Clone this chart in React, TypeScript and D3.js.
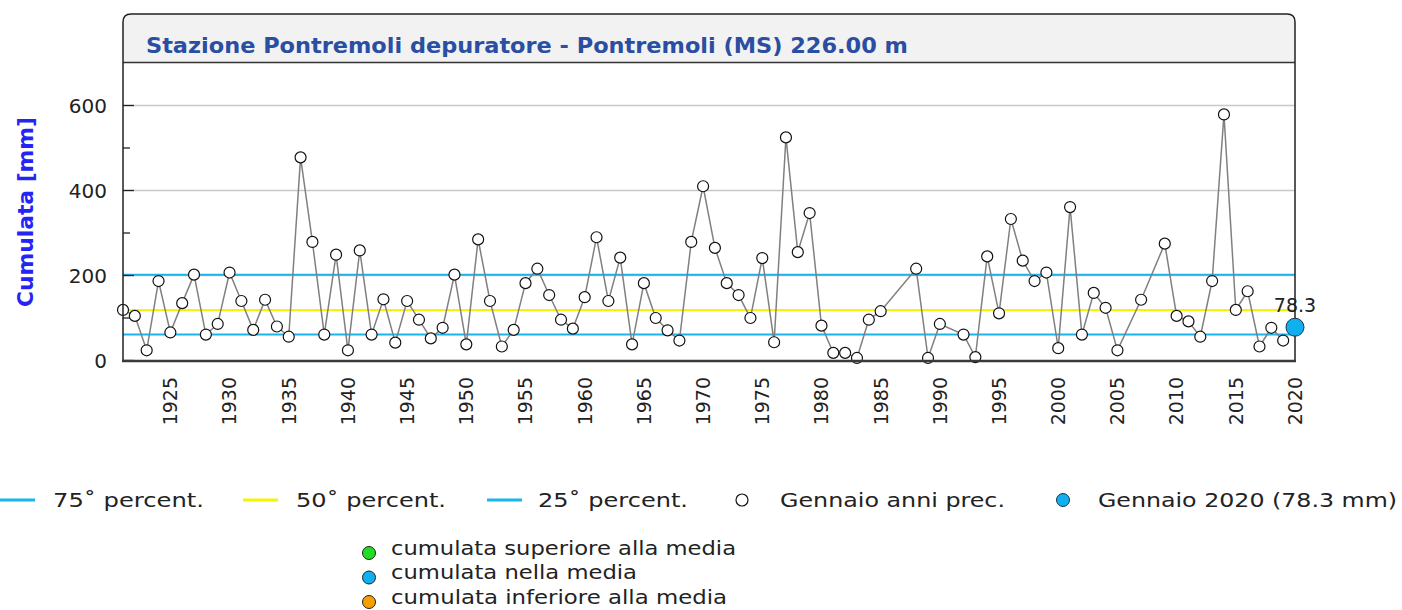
import React from "react";
import * as d3 from "d3";

const years: number[] = [
  1921, 1922, 1923, 1924, 1925, 1926, 1927, 1928, 1929, 1930,
  1931, 1932, 1933, 1934, 1935, 1936, 1937, 1938, 1939, 1940,
  1941, 1942, 1943, 1944, 1945, 1946, 1947, 1948, 1949, 1950,
  1951, 1952, 1953, 1954, 1955, 1956, 1957, 1958, 1959, 1960,
  1961, 1962, 1963, 1964, 1965, 1966, 1967, 1968, 1969, 1970,
  1971, 1972, 1973, 1974, 1975, 1976, 1977, 1978, 1979, 1980,
  1981, 1982, 1983, 1984, 1985, 1988, 1989, 1990, 1992, 1993,
  1994, 1995, 1996, 1997, 1998, 1999, 2000, 2001, 2002, 2003,
  2004, 2005, 2007, 2009, 2010, 2011, 2012, 2013, 2014, 2015,
  2016, 2017, 2018, 2019,
];
const values: number[] = [
  119, 105, 24, 187, 66, 135, 202, 61, 86, 207,
  140, 72, 143, 80, 56, 478, 279, 61, 249, 24,
  259, 61, 144, 42, 140, 96, 52, 77, 202, 38,
  285, 140, 33, 72, 182, 216, 154, 96, 75, 149,
  290, 140, 242, 38, 182, 100, 71, 47, 279, 410,
  265, 182, 154, 100, 241, 43, 525, 255, 347, 82,
  18, 18, 6, 96, 116, 216, 6, 86, 61, 8,
  245, 111, 333, 235, 187, 207, 29, 361, 61, 159,
  124, 24, 143, 275, 105, 92, 56, 187, 579, 119,
  163, 33, 77, 47,
];
const currentYear = 2020;
const currentValue = 78.3;
const p75 = 202;
const p50 = 119;
const p25 = 61;
const yMajorTicks: number[] = [0, 200, 400, 600];
const yMinorTicks: number[] = [100, 300, 500];
const xTickYears: number[] = [1925, 1930, 1935, 1940, 1945, 1950, 1955, 1960, 1965, 1970, 1975, 1980, 1985, 1990, 1995, 2000, 2005, 2010, 2015, 2020];
const titleText = "Stazione Pontremoli depuratore - Pontremoli (MS) 226.00 m";
const yTitle = "Cumulata [mm]";
const legendMain = [
  { label: "75\u02DA percent.", kind: "line", color: "#1ab4ee", lx: 0, tx: 53, tw: 151 },
  { label: "50\u02DA percent.", kind: "line", color: "#f5f500", lx: 243, tx: 296, tw: 150 },
  { label: "25\u02DA percent.", kind: "line", color: "#1ab4ee", lx: 487, tx: 538, tw: 150 },
  { label: "Gennaio anni prec.", kind: "open", color: "#ffffff", lx: 742, tx: 780, tw: 225 },
  { label: "Gennaio 2020 (78.3 mm)", kind: "filled", color: "#10b0ee", lx: 1063, tx: 1098, tw: 299 },
];
const legendClass = [
  { label: "cumulata superiore alla media", color: "#22dd22", tw: 345 },
  { label: "cumulata nella media", color: "#10b0ee", tw: 246 },
  { label: "cumulata inferiore alla media", color: "#f5a000", tw: 336 },
];

const FONT = "DejaVu Sans, sans-serif";

export default function App() {
  const left = 123, right = 1295, top = 14, bandBottom = 62.5, bottom = 361;
  const x = d3.scaleLinear().domain([1921, 2020]).range([left, right]);
  const y = d3.scaleLinear().domain([0, 700]).range([360.5, 63]);
  const pts = years.map((yr, i) => [yr, values[i]] as [number, number]);
  const line = d3.line<[number, number]>().x((d) => x(d[0])).y((d) => y(d[1]));
  const r = 8;
  const framePath = `M${left},${bottom} L${left},${top + r} Q${left},${top} ${left + r},${top} L${right - r},${top} Q${right},${top} ${right},${top + r} L${right},${bottom}`;
  const bandPath = `M${left},${bandBottom} L${left},${top + r} Q${left},${top} ${left + r},${top} L${right - r},${top} Q${right},${top} ${right},${top + r} L${right},${bandBottom} Z`;

  return (
    <svg width={1402} height={610} style={{ position: "absolute", left: 0, top: 0, background: "#fff" }} fontFamily={FONT}>
      <rect x={0} y={0} width={1402} height={610} fill="#fff" />
      <path d={bandPath} fill="#f2f2f2" />
      <text x={146} y={53} fontSize={21} fontWeight="bold" fill="#2a4ea2" textLength={762} lengthAdjust="spacingAndGlyphs">{titleText}</text>
      <line x1={left} x2={right} y1={bandBottom} y2={bandBottom} stroke="#333" strokeWidth={1.3} />

      {/* gridlines */}
      {yMajorTicks.filter((t) => t > 0).map((t) => (
        <line key={"g" + t} x1={left} x2={right} y1={y(t)} y2={y(t)} stroke="#c8c8c8" strokeWidth={1.5} />
      ))}

      {/* percentile lines */}
      <line x1={left} x2={right} y1={y(p75)} y2={y(p75)} stroke="#1ab4ee" strokeWidth={2} />
      <line x1={left} x2={right} y1={y(p50)} y2={y(p50)} stroke="#f5f500" strokeWidth={2} />
      <line x1={left} x2={right} y1={y(p25)} y2={y(p25)} stroke="#1ab4ee" strokeWidth={2} />

      {/* y ticks */}
      {yMajorTicks.map((t) => (
        <g key={"t" + t}>
          <line x1={left} x2={left + 11} y1={y(t)} y2={y(t)} stroke="#222" strokeWidth={1.3} />
          <text x={107} y={y(t)} dy="0.36em" textAnchor="end" fontSize={20} fill="#222">{t}</text>
        </g>
      ))}
      {yMinorTicks.map((t) => (
        <line key={"m" + t} x1={left} x2={left + 7} y1={y(t)} y2={y(t)} stroke="#222" strokeWidth={1.3} />
      ))}
      <text transform={`translate(33,${(63 + 361) / 2}) rotate(-90)`} textAnchor="middle" fontSize={21} fontWeight="bold" fill="#2424f5" textLength={190} lengthAdjust="spacingAndGlyphs">{yTitle}</text>

      {/* series */}
      <path d={line(pts) || ""} fill="none" stroke="#808080" strokeWidth={1.5} />
      {pts.map((d) => (
        <circle key={"p" + d[0]} cx={x(d[0])} cy={y(d[1])} r={5.5} fill="#fff" stroke="#111" strokeWidth={1.2} />
      ))}

      {/* frame */}
      <path d={framePath} fill="none" stroke="#222" strokeWidth={1.5} />
      <line x1={left - 1} x2={right + 1} y1={bottom} y2={bottom} stroke="#3a3a3a" strokeWidth={2.5} />

      {/* current */}
      <circle cx={x(currentYear)} cy={y(currentValue)} r={9} fill="#10b0ee" stroke="#1a3550" strokeWidth={1} />
      <text x={x(currentYear)} y={y(currentValue) - 15} textAnchor="middle" fontSize={19} fill="#222">{currentValue.toFixed(1)}</text>

      {/* x labels */}
      {xTickYears.map((yr) => (
        <text key={"x" + yr} transform={`translate(${x(yr)},377) rotate(-90)`} textAnchor="end" dy="0.36em" fontSize={19} fill="#222">{yr}</text>
      ))}

      {/* legend main */}
      {legendMain.map((l) => (
        <g key={l.label}>
          {l.kind === "line" && <line x1={l.lx} x2={l.lx + 35} y1={500} y2={500} stroke={l.color} strokeWidth={3} />}
          {l.kind === "open" && <circle cx={l.lx} cy={500} r={6} fill="#fff" stroke="#111" strokeWidth={1.2} />}
          {l.kind === "filled" && <circle cx={l.lx} cy={500} r={6.5} fill={l.color} stroke="#1a3550" strokeWidth={1} />}
          <text x={l.tx} y={500} dy="0.36em" fontSize={20} fill="#222" textLength={l.tw} lengthAdjust="spacingAndGlyphs">{l.label}</text>
        </g>
      ))}

      {/* legend classes */}
      {legendClass.map((l, i) => (
        <g key={l.label}>
          <circle cx={369} cy={553 + i * 24.5} r={6.5} fill={l.color} stroke="#222" strokeWidth={1} />
          <text x={391} y={548 + i * 24.5} dy="0.36em" fontSize={19} fill="#222" textLength={l.tw} lengthAdjust="spacingAndGlyphs">{l.label}</text>
        </g>
      ))}
    </svg>
  );
}
